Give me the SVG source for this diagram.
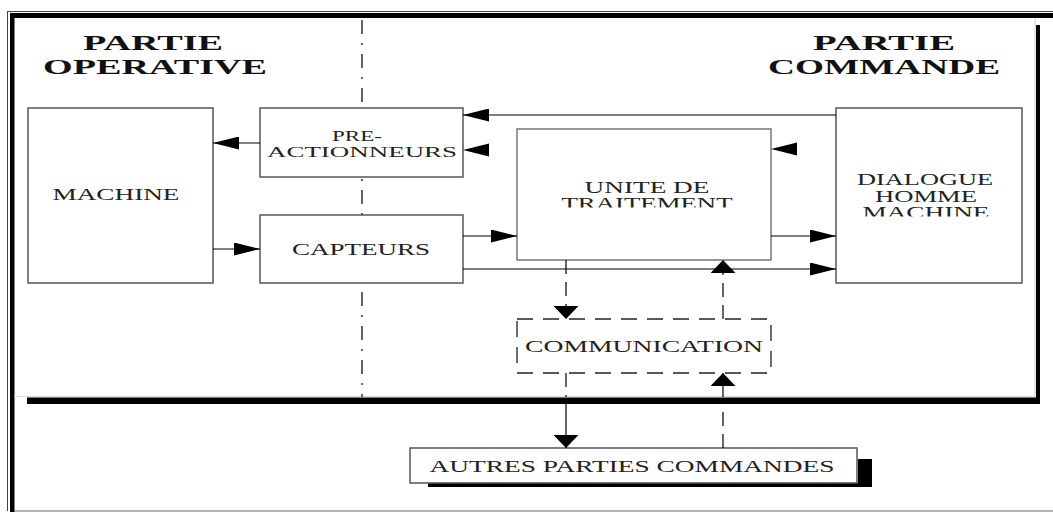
<svg xmlns="http://www.w3.org/2000/svg" width="1053" height="512" viewBox="0 0 1053 512">
<style>
  text { font-family: "Liberation Serif", "Times New Roman", serif; fill: #222; text-anchor: middle; }
  .lbl { font-size: 16px; }
  .sm { font-size: 15px; }
  .head { font-size: 20px; font-weight: bold; fill: #111; }
  .box { fill: #fff; stroke: #555; stroke-width: 1.5; }
  .conn { fill: none; stroke: #000; stroke-width: 1.2; }
  .dash { stroke-dasharray: 14 8; }
  .frame { fill: #000; }
</style>
<defs>
  <marker id="ah" viewBox="0 0 26 13" refX="26" refY="6.5" markerWidth="26" markerHeight="13" markerUnits="userSpaceOnUse" orient="auto">
    <path d="M0,0 L26,6.5 L0,13 z" fill="#000"/>
  </marker>
  <marker id="av" viewBox="0 0 13 25" refX="13" refY="12.5" markerWidth="13" markerHeight="25" markerUnits="userSpaceOnUse" orient="auto">
    <path d="M0,0 L13,12.5 L0,25 z" fill="#000"/>
  </marker>
  <clipPath id="clipUT"><rect x="517" y="129" width="254" height="78.5"/></clipPath>
  <clipPath id="clipDH"><rect x="836" y="108" width="186" height="108.5"/></clipPath>
</defs>
<rect width="1053" height="512" fill="#fff"/>

<!-- frame -->
<g id="frame">
  <line x1="7.5" y1="11" x2="7.5" y2="511" stroke="#444" stroke-width="1"/>
  <line x1="7" y1="11.5" x2="1053" y2="11.5" stroke="#444" stroke-width="1"/>
  <rect class="frame" x="10" y="13" width="4.5" height="499"/>
  <rect class="frame" x="10" y="13" width="1043" height="5"/>
  <line x1="1035" y1="18" x2="1035" y2="404" stroke="#ccc" stroke-width="1"/>
  <rect class="frame" x="1036" y="25" width="4" height="379"/>
  <line x1="14" y1="396.5" x2="1036" y2="396.5" stroke="#ddd" stroke-width="1"/>
  <rect class="frame" x="27" y="397.5" width="1013" height="6.5"/>
  <line x1="14" y1="511" x2="1053" y2="511" stroke="#666" stroke-width="1"/>
  <line x1="362" y1="20" x2="362" y2="397" stroke="#333" stroke-width="1.5" stroke-dasharray="14 9 2 9"/>
</g>

<!-- headings -->
<g id="headings">
  <text class="head" transform="translate(153,50) scale(1.8,1)" textLength="77.8" lengthAdjust="spacingAndGlyphs">PARTIE</text>
  <text class="head" transform="translate(155,74) scale(1.8,1)" textLength="124.4" lengthAdjust="spacingAndGlyphs">OPERATIVE</text>
  <text class="head" transform="translate(884,50) scale(1.8,1)" textLength="78.9" lengthAdjust="spacingAndGlyphs">PARTIE</text>
  <text class="head" transform="translate(884,74) scale(1.8,1)" textLength="128.9" lengthAdjust="spacingAndGlyphs">COMMANDE</text>
</g>

<!-- nodes -->
<g id="machine">
  <rect class="box" x="28" y="108" width="185" height="175"/>
  <text class="lbl" transform="translate(116,200) scale(1.7,1)" textLength="74.7" lengthAdjust="spacingAndGlyphs">MACHINE</text>
</g>
<g id="pre-actionneurs">
  <rect class="box" x="260" y="108" width="203" height="69"/>
  <text class="sm" transform="translate(357,141) scale(1.7,1)" textLength="29.4" lengthAdjust="spacingAndGlyphs">PRE-</text>
  <text class="sm" transform="translate(362,157) scale(1.7,1)" textLength="111.8" lengthAdjust="spacingAndGlyphs">ACTIONNEURS</text>
</g>
<g id="capteurs">
  <rect class="box" x="260" y="215" width="203" height="68"/>
  <text class="lbl" transform="translate(361,255) scale(1.7,1)" textLength="81.2" lengthAdjust="spacingAndGlyphs">CAPTEURS</text>
</g>
<g id="unite-traitement">
  <rect class="box" x="517" y="129" width="254" height="131" style="stroke:#777"/>
  <text class="lbl" transform="translate(647,193) scale(1.7,1)" textLength="73.5" lengthAdjust="spacingAndGlyphs">UNITE DE</text>
  <g clip-path="url(#clipUT)">
    <text class="lbl" transform="translate(647,209) scale(1.7,1)" textLength="100.6" lengthAdjust="spacingAndGlyphs">TRAITEMENT</text>
  </g>
</g>
<g id="dialogue">
  <rect class="box" x="836" y="108" width="186" height="175"/>
  <text class="lbl" transform="translate(925,185) scale(1.7,1)" textLength="80" lengthAdjust="spacingAndGlyphs">DIALOGUE</text>
  <text class="lbl" transform="translate(926,202) scale(1.7,1)" textLength="60" lengthAdjust="spacingAndGlyphs">HOMME</text>
  <g clip-path="url(#clipDH)">
    <text class="lbl" transform="translate(926,218) scale(1.7,1)" textLength="74.7" lengthAdjust="spacingAndGlyphs">MACHINE</text>
  </g>
</g>
<g id="communication">
  <rect x="517" y="319" width="254" height="54" fill="#fff" stroke="#222" stroke-width="1.3" stroke-dasharray="16 10"/>
  <text class="lbl" transform="translate(644,352) scale(1.7,1)" textLength="140" lengthAdjust="spacingAndGlyphs">COMMUNICATION</text>
</g>
<g id="autres">
  <rect x="858" y="459" width="14" height="28" fill="#000"/>
  <rect x="428" y="483" width="444" height="4" fill="#000"/>
  <rect class="box" x="410" y="448" width="447" height="35"/>
  <text class="lbl" transform="translate(632,472) scale(1.7,1)" textLength="238.2" lengthAdjust="spacingAndGlyphs">AUTRES PARTIES COMMANDES</text>
</g>

<!-- connectors -->
<g id="connectors">
  <path class="conn" d="M836,115 H463" marker-end="url(#ah)"/>
  <path class="conn" d="M260,143 H213" marker-end="url(#ah)"/>
  <path class="conn" d="M213,249 H260" marker-end="url(#ah)"/>
  <path class="conn" d="M463,236 H517" marker-end="url(#ah)"/>
  <path class="conn" d="M463,269 H836" marker-end="url(#ah)"/>
  <path class="conn" d="M771,236 H836" marker-end="url(#ah)"/>
  <polygon points="463,150 489,143.5 489,156.5" fill="#000"/>
  <polygon points="771,149 797,142.5 797,155.5" fill="#000"/>
  <path class="conn dash" d="M566,260 V319" marker-end="url(#av)"/>
  <path class="conn dash" d="M723,319 V260" marker-end="url(#av)"/>
  <path class="conn dash" d="M566,373 V397"/>
  <path class="conn" d="M566,404 V448" marker-end="url(#av)"/>
  <path class="conn dash" d="M723,448 V404"/>
  <path class="conn" d="M723,397 V373" marker-end="url(#av)"/>
</g>
</svg>
